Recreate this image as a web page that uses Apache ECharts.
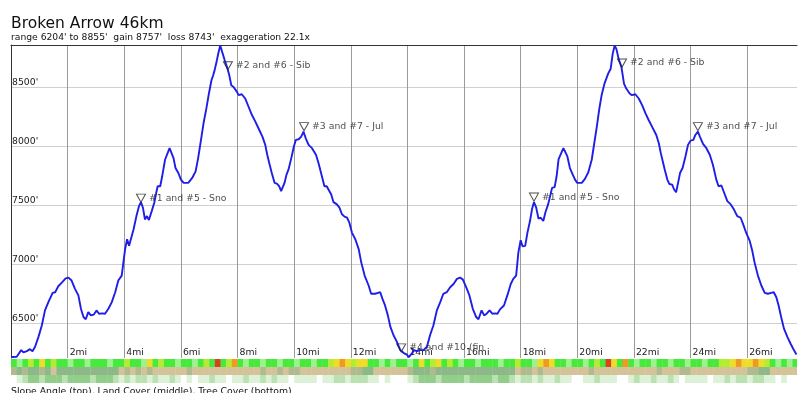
<!DOCTYPE html>
<html><head><meta charset="utf-8">
<script src="https://cdn.jsdelivr.net/npm/echarts@6/dist/echarts.min.js"></script>
<style>html,body{margin:0;padding:0;background:#fff}#c{width:805px;height:393px}</style>
</head><body><div id="c"></div>
<script>
const titleText = 'Broken Arrow 46km';
const subtitleText = "range 6204' to 8855'  gain 8757'  loss 8743'  exaggeration 22.1x";
const footText = 'Slope Angle (top), Land Cover (middle), Tree Cover (bottom)';

const xMin = 0, xMax = 27.76;
const yMin = 6204, yMax = 8855;
const xTicks = [2,4,6,8,10,12,14,16,18,20,22,24,26];
const yTicks = [6500,7000,7500,8000,8500];

const distMi = [0.00,0.20,0.36,0.44,0.56,0.67,0.76,0.85,0.97,1.09,1.20,1.32,1.47,1.56,1.67,1.81,1.93,2.03,2.14,2.26,2.38,2.47,2.56,2.64,2.73,2.82,2.92,3.02,3.11,3.23,3.32,3.44,3.56,3.68,3.79,3.91,4.03,4.10,4.17,4.24,4.33,4.43,4.52,4.59,4.66,4.73,4.80,4.87,4.97,5.06,5.13,5.18,5.27,5.34,5.44,5.51,5.60,5.67,5.74,5.81,5.91,6.00,6.10,6.26,6.40,6.52,6.61,6.71,6.80,6.90,6.99,7.08,7.14,7.19,7.27,7.33,7.39,7.45,7.55,7.63,7.71,7.78,7.86,7.98,8.04,8.15,8.27,8.39,8.51,8.63,8.74,8.88,8.98,9.05,9.12,9.21,9.31,9.39,9.47,9.54,9.59,9.66,9.73,9.80,9.90,9.99,10.06,10.16,10.25,10.33,10.41,10.51,10.63,10.77,10.86,10.98,11.07,11.15,11.21,11.31,11.39,11.51,11.60,11.69,11.78,11.87,11.95,12.04,12.16,12.28,12.37,12.49,12.63,12.72,12.86,12.96,13.04,13.12,13.21,13.31,13.40,13.51,13.63,13.75,13.86,13.98,14.05,14.16,14.24,14.33,14.45,14.57,14.69,14.80,14.92,15.04,15.16,15.27,15.39,15.51,15.63,15.75,15.86,15.96,16.09,16.19,16.31,16.43,16.51,16.62,16.71,16.80,16.90,17.00,17.10,17.18,17.27,17.41,17.53,17.65,17.74,17.84,17.92,18.00,18.07,18.16,18.24,18.33,18.40,18.47,18.55,18.63,18.71,18.80,18.87,18.97,19.04,19.11,19.20,19.27,19.34,19.41,19.51,19.58,19.65,19.74,19.84,19.92,20.00,20.16,20.27,20.39,20.51,20.60,20.69,20.78,20.86,20.96,21.09,21.18,21.25,21.32,21.38,21.46,21.56,21.65,21.73,21.85,21.93,22.05,22.17,22.29,22.41,22.52,22.64,22.79,22.88,22.95,23.02,23.09,23.18,23.25,23.35,23.42,23.49,23.56,23.63,23.72,23.82,23.91,24.00,24.10,24.17,24.26,24.33,24.44,24.56,24.68,24.79,24.91,24.99,25.09,25.18,25.30,25.42,25.53,25.65,25.77,25.86,25.97,26.09,26.18,26.26,26.38,26.50,26.62,26.73,26.85,26.94,27.03,27.11,27.20,27.30,27.42,27.53,27.65,27.74];
const elevFt = [6212,6215,6271,6251,6262,6279,6262,6299,6383,6481,6607,6677,6756,6761,6812,6846,6879,6885,6860,6790,6734,6621,6551,6532,6593,6565,6571,6607,6579,6582,6579,6621,6677,6761,6860,6902,7126,7210,7154,7154,7294,7406,7490,7524,7477,7378,7406,7373,7448,7519,7603,7659,7659,7743,7883,7897,7981,7967,7897,7813,7771,7715,7687,7687,7729,7785,7897,8051,8192,8318,8444,8556,8598,8640,8724,8794,8850,8836,8724,8668,8598,8514,8500,8458,8430,8438,8402,8332,8262,8206,8150,8079,8009,7925,7855,7771,7687,7681,7659,7617,7608,7687,7757,7799,7897,7995,8051,8057,8079,8121,8065,8009,7981,7925,7855,7743,7659,7659,7665,7589,7524,7505,7477,7421,7401,7392,7350,7266,7210,7126,7014,6902,6818,6748,6748,6756,6761,6705,6649,6565,6467,6397,6341,6271,6248,6232,6212,6243,6271,6262,6271,6271,6299,6397,6481,6607,6677,6748,6761,6803,6831,6874,6885,6868,6795,6734,6621,6551,6532,6607,6565,6579,6607,6579,6582,6579,6616,6649,6734,6831,6874,6902,7098,7202,7149,7154,7266,7364,7463,7524,7477,7384,7392,7364,7434,7505,7575,7645,7651,7743,7889,7897,7981,7973,7911,7813,7757,7715,7687,7687,7721,7777,7883,8023,8164,8318,8430,8528,8612,8654,8780,8850,8822,8738,8668,8528,8486,8444,8430,8438,8402,8346,8276,8220,8164,8093,8023,7939,7869,7799,7715,7678,7673,7631,7608,7687,7771,7813,7911,8009,8045,8051,8093,8121,8079,8018,7981,7925,7841,7715,7659,7665,7608,7533,7505,7463,7406,7392,7336,7261,7196,7112,7014,6902,6818,6756,6748,6756,6761,6719,6649,6551,6453,6383,6327,6271,6234];

const markerMi = [4.59, 7.66, 10.35, 13.78, 18.47, 21.58, 24.26];
const markerFt = [7524, 8646, 8130, 6256, 7533, 8668, 8130];
const markerNames = ['#1 and #5 - Sno','#2 and #6 - Sib','#3 and #7 - Jul','#4 and #10 (fin','#1 and #5 - Sno','#2 and #6 - Sib','#3 and #7 - Jul'];

const binMi = 0.2;
const slopeClass = [1,0,1, 2,1,3,1,2,1, 1,0,1,1,0,1, 1,1,0,1,1, 2,1,1,0, 3,1,2,1, 1,0,1,1,0, 1,2,1, 5, 1, 2, 4, 1,0,1,1,0, 1,1,0,1,1, 0,1,1,0,1, 1,2, 3,4,3,2,3,3, 1,1,0,1,0,1,
  1,0,1, 3,1,2,3,1,2, 1,0,1,1,0,1, 1,1,0,1,1, 2,1,1,0, 3,4,3,1, 1,0,1,1,0, 1,2,1, 5, 3, 1, 4, 1,0,1,1,0, 1,1,0,1,1, 0,1,1,0,1, 1,2, 2,3,4,3,3,4,3, 2,1,0,1,0,1];
const landClass = [2,1,2, 1,1,2,1, 0, 1,1,1,1,1,1,1,1,1,1,1, 0, 2,0,2,0,2, 0,0,0,0,0, 0,2,0,0,0, 0,0,0,0,0, 0,0,0,0,2, 0,0,2,0,2, 2,0,0,0,0, 0,0,0,0,0, 2,2, 1,1, 0,0,0,0,0,
  0,2, 1,1,1,2,1,1,1,1,1,1,1,1,1,1,1,1,1,1, 0,2,2,0,2,0,0, 0,0,0,0,0,0,2,0,0,0, 0,0,0,0,0, 0,0,0,2,0, 0,0,2,2,0, 0,0,0,0,0, 0,0,0,0,2, 2,1,1, 0,0,0,0,0];
const treeClass = [0,1, 2,3,3,2,3,3,3,2,3,3,3,3,2,3,3,3,2, 1,2,1,2,2,1,2,1,1, 2,1,0,1,0, 1,1,2,1,1, 0,1,1,2,1,1,2, 1,2,1,1,0,1,1, 1,1,0,1,1,2, 2,1,2,2,2,1, 1,0,1,0,0,
  0,1, 2,3,3,3,2,3,3,3,3,2,3,3,3,3,2,3,3,2, 1,2,2,1,2,1,1,2, 1,1,0,0,1, 1,2,1,1,1,0, 0,1,2,1,1,2,1, 1,2,1,0,1,1,1, 1,0,1,1,2,1, 2,2,1,2,2,1, 1,0,1,0,0];

const slopePalette = ['#9cf28e','#46ea3a','#b4ec30','#eedd26','#f09a22','#d8421e'];
const landPalette = ['#d4c398','#8db887','#b1ba8f'];
const treePalette = ['#ffffff','#dcf1d6','#b9e2b0','#92cd8a'];

const FONT = 'DejaVu Sans';
const chart = echarts.init(document.getElementById('c'), null, {renderer:'canvas'});

function strip(classes, palette, idx){
  return {
    type:'custom', xAxisIndex: idx + 1, yAxisIndex: idx, clip: true, silent: true,
    encode:{x:[0,1], y:2},
    data: classes.map((c,i)=>[i*binMi, (i+1)*binMi, c]),
    renderItem: function(params, api){
      const a = api.coord([api.value(0), 1]);
      const b = api.coord([api.value(1), 0]);
      const cs = params.coordSys;
      const x0 = Math.max(a[0], cs.x), x1 = Math.min(b[0], cs.x + cs.width);
      if (x1 <= x0) return null;
      return {type:'rect', shape:{x:x0, y:a[1], width:x1 - x0 + 0.4, height:b[1]-a[1]}, style:{fill: palette[api.value(2)]}};
    }
  };
}

const stripGrid = (top)=>({left:11, right:8, top:top, height:8});
const hiddenX = (g)=>({type:'value', gridIndex:g, min:xMin, max:xMax, show:false});
const hiddenY = (g)=>({type:'value', gridIndex:g, min:0, max:1, show:false});

chart.setOption({
  animation:false,
  backgroundColor:'#fff',
  textStyle:{fontFamily:FONT},
  graphic:[
    {type:'text', left:11, top:15.5, style:{text:titleText, fontFamily:FONT, fontSize:15.5, fill:'#111'}},
    {type:'text', left:11, top:33, style:{text:subtitleText, fontFamily:FONT, fontSize:9.2, fill:'#111'}},
    {type:'text', left:11, top:387.5, style:{text:footText, fontFamily:FONT, fontSize:9.3, fill:'#111'}}
  ],
  grid:[
    {left:11, right:8, top:45, height:313},
    stripGrid(359), stripGrid(367), stripGrid(375)
  ],
  xAxis:[
    {type:'value', gridIndex:0, min:xMin, max:xMax, position:'bottom',
     axisLine:{show:false}, axisTick:{show:false, customValues:xTicks},
     axisLabel:{inside:true, customValues:xTicks, formatter:v=>v+'mi', fontFamily:FONT, fontSize:9.3, color:'#222', align:'left', verticalAlign:'bottom', margin:1, padding:[0,0,0,2]},
     splitLine:{show:true, lineStyle:{color:'#9a9a9a', width:1}}},
    {type:'value', gridIndex:0, min:xMin, max:xMax, position:'top',
     axisLine:{show:true, lineStyle:{color:'#333', width:1}}, axisTick:{show:false}, axisLabel:{show:false}, splitLine:{show:false}},
    hiddenX(1), hiddenX(2), hiddenX(3)
  ],
  yAxis:[
    {type:'value', gridIndex:0, min:yMin, max:yMax,
     axisLine:{show:true, lineStyle:{color:'#333', width:1}}, axisTick:{show:false, customValues:yTicks},
     axisLabel:{inside:true, customValues:yTicks, formatter:v=>v+"'", fontFamily:FONT, fontSize:9.3, color:'#222', verticalAlign:'bottom', margin:1},
     splitLine:{show:true, lineStyle:{color:'#cfcfcf', width:1}}},
    hiddenY(1), hiddenY(2), hiddenY(3)
  ],
  series:[
    {type:'line', xAxisIndex:0, yAxisIndex:0, data: distMi.map((d,i)=>[d, elevFt[i]]),
     showSymbol:false, smooth:false, lineStyle:{color:'#1e1ee8', width:1.9}, z:3},
    {type:'scatter', xAxisIndex:0, yAxisIndex:0, data: markerMi.map((d,i)=>[d, markerFt[i], markerNames[i]]),
     symbol:'path://M0,0 L10,0 L5,9 Z', symbolSize:[9,8], symbolOffset:[0,-4],
     itemStyle:{color:'rgba(255,255,255,0)', borderColor:'#222', borderWidth:1}, z:4,
     label:{show:true, position:'right', distance:3, formatter:p=>p.data[2], fontFamily:FONT, fontSize:9.3, color:'#222'}},
    strip(slopeClass, slopePalette, 1),
    strip(landClass, landPalette, 2),
    strip(treeClass, treePalette, 3)
  ]
});
</script></body></html>
